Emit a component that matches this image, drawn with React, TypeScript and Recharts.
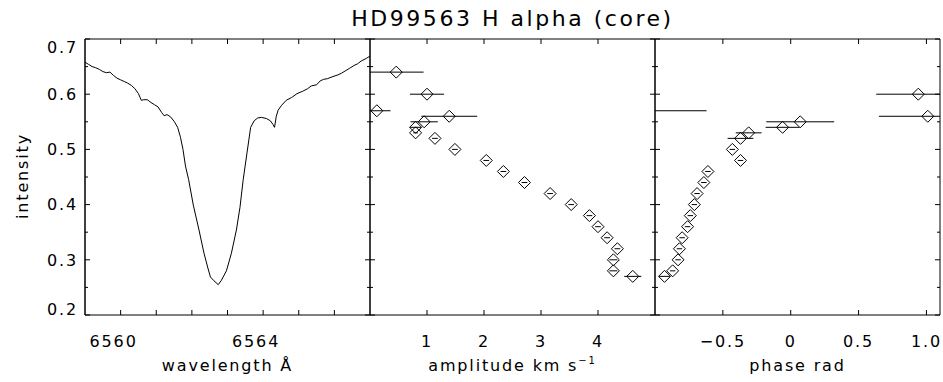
import React from 'react';
import { ComposedChart, Line, Scatter, ErrorBar, XAxis, YAxis, ReferenceLine } from 'recharts';

const W = 943;
const H = 382;
const PLOT_W = 285;
const PLOT_H = 276;
const FONT = '"DejaVu Sans", sans-serif';

// H alpha core profile
const wavelength = [
  6559.0, 6559.1, 6559.2, 6559.3, 6559.4, 6559.5, 6559.6, 6559.7, 6559.8, 6559.9,
  6560.0, 6560.1, 6560.2, 6560.3, 6560.4, 6560.5, 6560.58, 6560.65, 6560.75, 6560.85,
  6560.95, 6561.05, 6561.15, 6561.22, 6561.3, 6561.4, 6561.5, 6561.6, 6561.68, 6561.75,
  6561.82, 6561.91, 6562.04, 6562.2, 6562.34, 6562.45, 6562.52, 6562.62, 6562.74, 6562.83,
  6562.97, 6563.11, 6563.25, 6563.35, 6563.44, 6563.55, 6563.65, 6563.75, 6563.85, 6563.95,
  6564.09, 6564.2, 6564.28, 6564.32, 6564.37, 6564.42, 6564.52, 6564.65, 6564.8, 6564.95,
  6565.1, 6565.25, 6565.35, 6565.5, 6565.6, 6565.7, 6565.8, 6565.96, 6566.1, 6566.2,
  6566.3, 6566.43, 6566.55, 6566.65, 6566.75, 6566.9, 6567.0,
];
const flux = [
  0.658, 0.654, 0.65, 0.648, 0.645, 0.641, 0.639, 0.64, 0.634, 0.629,
  0.626, 0.623, 0.62, 0.616, 0.61, 0.601, 0.589, 0.59, 0.59, 0.585,
  0.581, 0.577, 0.567, 0.561, 0.563, 0.559, 0.551, 0.54, 0.522, 0.5,
  0.47, 0.445, 0.399, 0.354, 0.312, 0.285, 0.269, 0.262, 0.255, 0.263,
  0.28, 0.312, 0.354, 0.395, 0.445, 0.495, 0.54, 0.552, 0.557, 0.558,
  0.556, 0.552, 0.545, 0.54, 0.56, 0.571, 0.58, 0.589, 0.594, 0.601,
  0.605, 0.61, 0.615, 0.617, 0.624, 0.627, 0.628, 0.632, 0.635, 0.638,
  0.642, 0.647, 0.652, 0.655, 0.66, 0.665, 0.669,
];

// pulsation amplitude / phase across the line, per intensity level
const levels = [0.64, 0.6, 0.57, 0.56, 0.55, 0.54, 0.53, 0.52, 0.5, 0.48, 0.46, 0.44, 0.42, 0.4, 0.38, 0.36, 0.34, 0.32, 0.3, 0.28, 0.27];
const amplitude = [0.46, 1.0, 0.12, 1.39, 0.95, 0.8, 0.8, 1.14, 1.49, 2.04, 2.34, 2.71, 3.16, 3.53, 3.85, 4.0, 4.16, 4.34, 4.27, 4.27, 4.61];
const amplitudeErr = [0.48, 0.3, 0.24, 0.49, 0.24, 0.1, 0.04, 0.05, 0.05, 0.05, 0.05, 0.05, 0.05, 0.05, 0.05, 0.05, 0.05, 0.05, 0.07, 0.07, 0.15];
// null: phase falls outside the plotted range
const phase = [null, 0.94, null, 1.01, 0.07, -0.06, -0.31, -0.37, -0.43, -0.37, -0.61, -0.64, -0.69, -0.71, -0.74, -0.76, -0.8, -0.82, -0.83, -0.87, -0.93];
const phaseErr = [null, 0.31, null, 0.36, 0.25, 0.125, 0.095, 0.095, 0.02, 0.02, 0.02, 0.02, 0.02, 0.02, 0.02, 0.02, 0.02, 0.02, 0.02, 0.02, 0.04];
// visible part of the error bar of the 0.57 level, whose phase is off the left edge
const offPanelLevel = 0.57;
const offPanelBar = [-1.0, -0.62];

const yTicks = [0.2, 0.25, 0.3, 0.35, 0.4, 0.45, 0.5, 0.55, 0.6, 0.65, 0.7];
const wlTicks = [6560, 6561, 6562, 6563, 6564, 6565, 6566];
const wlLabels = [6560, 6564];
const ampTicks = [1, 2, 3, 4];
const phaseTicks = [-0.5, 0, 0.5, 1.0];

const WL_DOMAIN: [number, number] = [6559, 6567];
const AMP_DOMAIN: [number, number] = [0, 5];
const PH_DOMAIN: [number, number] = [-1, 1.1];
const Y_DOMAIN: [number, number] = [0.2, 0.7];

// error bar clipped to the panel range
const clipErr = (x: number, e: number, d: [number, number]) => [Math.min(e, x - d[0]), Math.min(e, d[1] - x)];

const spectrum = wavelength.map((w, i) => ({ x: w, inten: flux[i] }));
const ampData = levels.map((l, i) => ({
  inten: l,
  x: amplitude[i],
  err: clipErr(amplitude[i], amplitudeErr[i], AMP_DOMAIN),
}));
const phaseData = levels
  .map((l, i) => ({ l, p: phase[i], e: phaseErr[i] }))
  .filter((d) => d.p !== null)
  .map((d) => ({ inten: d.l, x: d.p as number, err: clipErr(d.p as number, d.e as number, PH_DOMAIN) }));

const txt = { fontFamily: FONT, fontSize: 16, letterSpacing: '0.115em', fill: '#000' };
const isMajorY = (v: number) => Math.abs(v * 10 - Math.round(v * 10)) < 1e-6;
const fmtPhase = (v: number) => (v === 0 ? '0' : (v < 0 ? '\u2212' : '') + Math.abs(v).toFixed(1));

const MINOR = 3;
const MAJOR = 5;
const axisLine = { stroke: '#000', strokeWidth: 1 };

// y tick labels (outside the frame)
const yLabel = (props: any) => {
  const x = Number(props.x);
  const y = Number(props.y);
  const v = props.payload.value;
  if (!isMajorY(v)) return <g />;
  let shift = 0;
  if (v > 0.695) shift = 8;
  else if (v < 0.205) shift = -6;
  return (
    <text x={x - 7} y={y + shift} dy="0.36em" textAnchor="end" style={txt}>
      {v.toFixed(1)}
    </text>
  );
};

const xLabel = (label: (v: number) => string, dx = 0) => (props: any) => {
  const x = Number(props.x);
  const y = Number(props.y);
  return (
    <text x={x + dx} y={y + 32} textAnchor="middle" style={txt}>
      {label(props.payload.value)}
    </text>
  );
};

const Diamond = (props: any) => {
  const { cx, cy } = props;
  const r = 6;
  return (
    <path
      d={`M${cx},${cy - r}L${cx + r},${cy}L${cx},${cy + r}L${cx - r},${cy}Z`}
      fill="none"
      stroke="#000"
      strokeWidth={1}
    />
  );
};

// inward tick marks on all four sides, drawn as short segments in data space
const TickMarks = (xTicks: number[], domain: [number, number]) => {
  const xPx = (domain[1] - domain[0]) / PLOT_W;
  const yPx = (Y_DOMAIN[1] - Y_DOMAIN[0]) / PLOT_H;
  const seg = (key: string, x1: number, y1: number, x2: number, y2: number) => (
    <ReferenceLine
      key={key}
      xAxisId="b"
      yAxisId="lm"
      segment={[
        { x: x1, y: y1 },
        { x: x2, y: y2 },
      ]}
      stroke="#000"
      strokeWidth={1}
    />
  );
  const out: React.ReactNode[] = [];
  xTicks.forEach((v) => {
    out.push(seg(`xb${v}`, v, Y_DOMAIN[0], v, Y_DOMAIN[0] + MAJOR * yPx));
    out.push(seg(`xt${v}`, v, Y_DOMAIN[1], v, Y_DOMAIN[1] - MAJOR * yPx));
  });
  yTicks.forEach((v) => {
    const len = isMajorY(v) ? MAJOR : MINOR;
    out.push(seg(`yl${v}`, domain[0], v, domain[0] + len * xPx, v));
    out.push(seg(`yr${v}`, domain[1], v, domain[1] - len * xPx, v));
  });
  return out;
};

const layer: React.CSSProperties = { position: 'absolute', left: 0, top: 0 };

// labelled bottom axis + frame lines on the other sides
const Frame = (xTicks: number[], domain: [number, number], label: (v: number) => string, dx: number, leftLabels: boolean) => {
  const axes = [
    <XAxis
      key="xb"
      xAxisId="b"
      type="number"
      dataKey="x"
      domain={domain}
      ticks={xTicks}
      interval={0}
      height={67}
      tickSize={0}
      tickMargin={0}
      tickLine={false}
      axisLine={axisLine}
      tick={xLabel(label, dx)}
    />,
    <XAxis
      key="xtm"
      xAxisId="tm"
      orientation="top"
      mirror
      type="number"
      dataKey="x"
      domain={domain}
      ticks={xTicks}
      interval={0}
      height={12}
      tickLine={false}
      axisLine={axisLine}
      tick={false}
    />,
    <YAxis
      key="ylm"
      yAxisId="lm"
      mirror
      type="number"
      dataKey="inten"
      domain={Y_DOMAIN}
      ticks={yTicks}
      interval={0}
      width={12}
      tickLine={false}
      axisLine={axisLine}
      tick={false}
    />,
    <YAxis
      key="yrm"
      yAxisId="rm"
      orientation="right"
      mirror
      type="number"
      dataKey="inten"
      domain={Y_DOMAIN}
      ticks={yTicks}
      interval={0}
      width={12}
      tickLine={false}
      axisLine={axisLine}
      tick={false}
    />,
  ];
  if (leftLabels) {
    axes.push(
      <YAxis
        key="yl"
        yAxisId="l"
        type="number"
        dataKey="inten"
        domain={Y_DOMAIN}
        ticks={yTicks}
        interval={0}
        width={85}
        tickSize={0}
        tickMargin={0}
        tickLine={false}
        axisLine={axisLine}
        tick={yLabel}
      />,
    );
  }
  return [...axes, ...TickMarks(xTicks, domain)];
};

export default function App() {
  return (
    <div style={{ position: 'absolute', left: 0, top: 0, width: W, height: H, background: '#fff' }}>
      <div style={layer}>
        <ComposedChart width={W} height={H} data={spectrum} margin={{ top: 39, right: W - 370, bottom: 0, left: 0 }}>
          {Frame(wlTicks, WL_DOMAIN, (v) => (wlLabels.includes(v) ? String(v) : ''), -7, true)}
          <Line
            xAxisId="b"
            yAxisId="lm"
            dataKey="inten"
            type="linear"
            stroke="#000"
            strokeWidth={1}
            dot={false}
            isAnimationActive={false}
          />
        </ComposedChart>
      </div>
      <div style={layer}>
        <ComposedChart width={W} height={H} data={ampData} margin={{ top: 39, right: W - 655, bottom: 0, left: 370 }}>
          {Frame(ampTicks, AMP_DOMAIN, (v) => String(v), 0, false)}
          <Scatter xAxisId="b" yAxisId="lm" dataKey="inten" shape={Diamond} isAnimationActive={false}>
            <ErrorBar dataKey="err" direction="x" width={0} stroke="#000" strokeWidth={1} />
          </Scatter>
        </ComposedChart>
      </div>
      <div style={layer}>
        <ComposedChart width={W} height={H} data={phaseData} margin={{ top: 39, right: W - 940, bottom: 0, left: 655 }}>
          {Frame(phaseTicks, PH_DOMAIN, fmtPhase, 0, false)}
          <ReferenceLine
            xAxisId="b"
            yAxisId="lm"
            segment={[
              { x: offPanelBar[0], y: offPanelLevel },
              { x: offPanelBar[1], y: offPanelLevel },
            ]}
            stroke="#000"
            strokeWidth={1}
          />
          <Scatter xAxisId="b" yAxisId="lm" dataKey="inten" shape={Diamond} isAnimationActive={false}>
            <ErrorBar dataKey="err" direction="x" width={0} stroke="#000" strokeWidth={1} />
          </Scatter>
        </ComposedChart>
      </div>
      <svg width={W} height={H} style={{ ...layer, pointerEvents: 'none' }}>
        <text x={512.5} y={26} textAnchor="middle" style={{ ...txt, fontSize: 22 }}>
          HD99563 H alpha (core)
        </text>
        <text transform="translate(28,176) rotate(-90)" textAnchor="middle" style={txt}>
          intensity
        </text>
        <text x={227.5} y={371} textAnchor="middle" style={txt}>
          wavelength Å
        </text>
        <text x={512.5} y={371} textAnchor="middle" style={txt}>
          amplitude km s
          <tspan dy={-7} style={{ fontSize: 10 }}>
            −1
          </tspan>
        </text>
        <text x={797.5} y={371} textAnchor="middle" style={txt}>
          phase rad
        </text>
      </svg>
    </div>
  );
}
